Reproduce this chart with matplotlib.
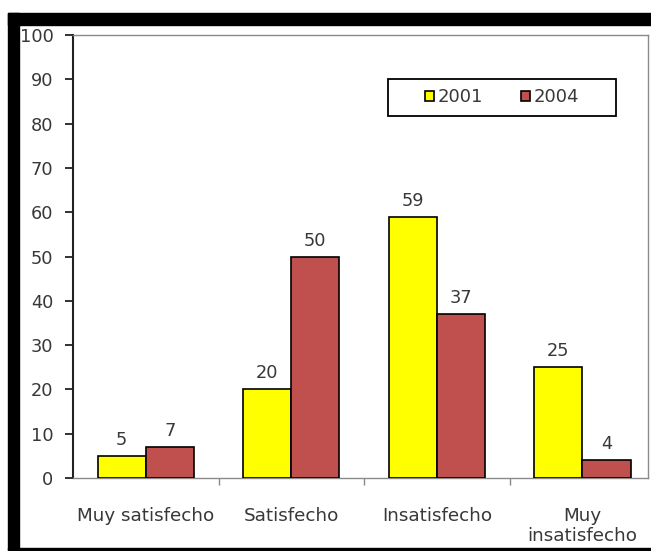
import numpy as np
import matplotlib
matplotlib.use("Agg")
import matplotlib.pyplot as plt
from matplotlib.patches import Rectangle

categories = ["Muy satisfecho", "Satisfecho", "Insatisfecho", "Muy\ninsatisfecho"]
years = ["2001", "2004"]
values_2001 = [5, 20, 59, 25]
values_2004 = [7, 50, 37, 4]
y_ticks = list(range(0, 101, 10))

colors = ["#FFFF00", "#C0504D"]
text_color = "#383838"

plt.rcParams["font.family"] = ["DejaVu Sans"]

W, H = 651, 551
fig = plt.figure(figsize=(W / 100, H / 100), dpi=100)
fig.patch.set_facecolor("white")

# black frame around the picture (top, left and a thin bottom line)
def px_rect(x0, y0_top, x1, y1_top):
    return Rectangle((x0 / W, 1 - y1_top / H), (x1 - x0) / W, (y1_top - y0_top) / H,
                     transform=fig.transFigure, color="black", zorder=0)

fig.add_artist(px_rect(8, 13, W, 25))
fig.add_artist(px_rect(8, 13, 19, 550))
fig.add_artist(px_rect(8, 548, W, 550))

ax = fig.add_axes([73 / W, (H - 478) / H, 575 / W, 443 / H])

x = np.arange(len(categories))
w = 0.33
b1 = ax.bar(x - w / 2, values_2001, w, color=colors[0], edgecolor="black",
            linewidth=1.2, label=years[0], zorder=3)
b2 = ax.bar(x + w / 2, values_2004, w, color=colors[1], edgecolor="black",
            linewidth=1.2, label=years[1], zorder=3)

ax.bar_label(b1, padding=5, fontsize=12.8, color=text_color)
ax.bar_label(b2, padding=5, fontsize=12.8, color=text_color)

ax.set_xlim(-0.5, len(categories) - 0.55)
ax.set_ylim(0, 100)
ax.set_yticks(y_ticks)
ax.tick_params(axis="y", direction="out", length=6, width=1.3, color="#222222",
               labelsize=12.8, labelcolor=text_color, pad=8)

ax.set_xticks(x)
ax.set_xticklabels(categories, fontsize=13.2, color=text_color, linespacing=1.15)
ax.tick_params(axis="x", length=0, pad=21)
ax.set_xticks(x[:-1] + 0.5, minor=True)
ax.tick_params(axis="x", which="minor", direction="out", length=5, width=1.0, color="#888888")

ax.spines["left"].set_color("#222222")
ax.spines["left"].set_linewidth(1.5)
for s in ["top", "right", "bottom"]:
    ax.spines[s].set_color("#8a8a8a")
    ax.spines[s].set_linewidth(1.0)

leg = ax.legend(loc="center", bbox_to_anchor=(0.746, 0.859), ncol=2, frameon=False,
                handlelength=0.5, handleheight=0.5, handletextpad=0.2,
                columnspacing=2.1, fontsize=13)
for t in leg.get_texts():
    t.set_color(text_color)
for h in leg.legend_handles:
    h.set_edgecolor("black")
    h.set_linewidth(1.2)
ax.add_patch(Rectangle((0.548, 0.817), 0.396, 0.084, transform=ax.transAxes,
                       fill=False, edgecolor="black", linewidth=1.3, zorder=5))

fig.savefig("out.png", dpi=100)
